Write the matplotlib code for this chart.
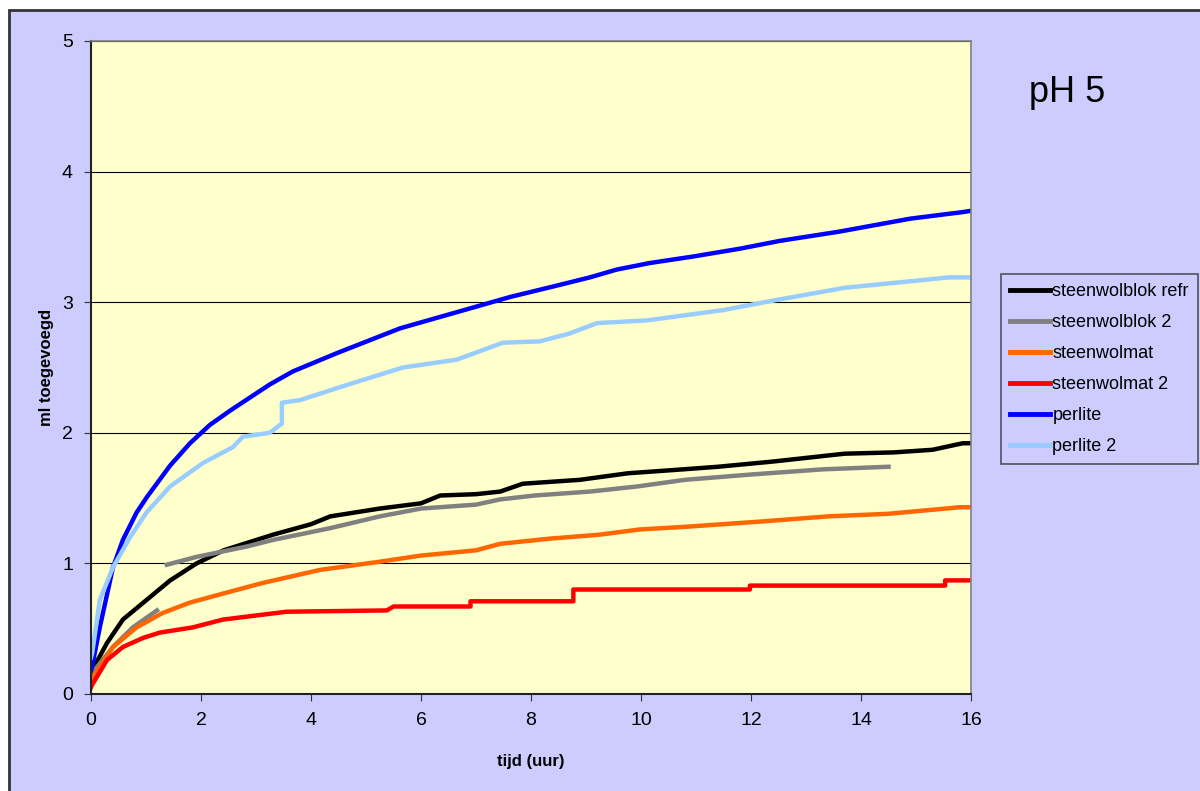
import numpy as np
import matplotlib
matplotlib.use("Agg")
import matplotlib.pyplot as plt
from matplotlib.patches import Rectangle

# values (tijd in uur, ml toegevoegd)
blok_refr_x = [0.0, 0.02, 0.29, 0.58, 1.01, 1.44, 1.92, 2.41, 3.31, 4.0, 4.35, 5.25, 6.0, 6.35, 7.0, 7.44, 7.85,
               8.89, 9.76, 10.76, 11.4, 12.4, 13.7, 14.6, 15.3, 15.85, 16.0]
blok_refr_y = [0.15, 0.18, 0.39, 0.57, 0.72, 0.87, 1.0, 1.10, 1.22, 1.30, 1.36, 1.42, 1.46, 1.52, 1.53, 1.55, 1.61,
               1.64, 1.69, 1.72, 1.74, 1.78, 1.84, 1.85, 1.87, 1.92, 1.92]

blok2_x = [0.0, 0.02, 0.4, 0.76, 1.2, np.nan, 1.38, 1.92, 2.84, 3.31, 4.35, 5.25, 6.0, 7.0, 7.44, 8.07,
           9.07, 9.95, 10.8, 11.98, 13.3, 14.5]
blok2_y = [0.13, 0.16, 0.36, 0.51, 0.64, np.nan, 0.99, 1.05, 1.13, 1.18, 1.27, 1.36, 1.42, 1.45, 1.49, 1.52,
           1.55, 1.59, 1.64, 1.68, 1.72, 1.74]

mat_x = [0.0, 0.02, 0.4, 0.83, 1.3, 1.8, 2.41, 3.12, 4.16, 5.2, 6.0, 7.0, 7.44, 8.35, 9.25, 9.98, 10.8,
         12.16, 13.4, 14.5, 15.8, 16.0]
mat_y = [0.09, 0.12, 0.36, 0.51, 0.62, 0.70, 0.77, 0.85, 0.95, 1.01, 1.06, 1.10, 1.15, 1.19, 1.22, 1.26, 1.28,
         1.32, 1.36, 1.38, 1.43, 1.43]

mat2_x = [0.0, 0.02, 0.29, 0.58, 0.95, 1.25, 1.85, 2.4, 3.56, 5.38, 5.5, 6.9, 6.9, 8.77, 8.77, 11.98, 11.98,
          15.53, 15.53, 16.0]
mat2_y = [0.05, 0.07, 0.26, 0.36, 0.43, 0.47, 0.51, 0.57, 0.63, 0.64, 0.67, 0.67, 0.71, 0.71, 0.80, 0.80, 0.83,
          0.83, 0.87, 0.87]

perlite_x = [0.0, 0.02, 0.16, 0.4, 0.58, 0.83, 1.02, 1.44, 1.8, 2.16, 2.53, 3.25, 3.67, 4.47, 5.62, 7.62,
             8.4, 9.07, 9.56, 10.16, 10.95, 11.8, 12.53, 13.6, 14.9, 15.85, 16.0]
perlite_y = [0.18, 0.21, 0.51, 0.97, 1.18, 1.39, 1.51, 1.75, 1.92, 2.06, 2.17, 2.37, 2.47, 2.61, 2.80, 3.04,
             3.12, 3.19, 3.25, 3.30, 3.35, 3.41, 3.47, 3.54, 3.64, 3.69, 3.70]

perlite2_x = [0.0, 0.02, 0.16, 0.4, 0.71, 1.01, 1.44, 2.04, 2.58, 2.76, 3.25, 3.47, 3.47, 3.8, 4.53, 5.67,
              6.65, 7.49, 8.16, 8.7, 9.2, 10.1, 11.5, 12.5, 13.7, 15.6, 16.0]
perlite2_y = [0.28, 0.31, 0.72, 0.97, 1.20, 1.39, 1.59, 1.77, 1.89, 1.97, 2.0, 2.07, 2.23, 2.25, 2.35, 2.50,
              2.56, 2.69, 2.70, 2.76, 2.84, 2.86, 2.94, 3.02, 3.11, 3.19, 3.19]

series = [
    ("steenwolblok refr", blok_refr_x, blok_refr_y, "#000000"),
    ("steenwolblok 2", blok2_x, blok2_y, "#808080"),
    ("steenwolmat", mat_x, mat_y, "#FF6600"),
    ("steenwolmat 2", mat2_x, mat2_y, "#FF0000"),
    ("perlite", perlite_x, perlite_y, "#0000FF"),
    ("perlite 2", perlite2_x, perlite2_y, "#99CCFF"),
]

plt.rcParams['font.family'] = ['Liberation Sans', 'DejaVu Sans']

fig = plt.figure(figsize=(12, 7.91), dpi=100, facecolor="white")
# chart area with dark border, behind everything
bg = Rectangle((9 / 1200, -0.01), 1.0, 1 - 10 / 791 + 0.01, transform=fig.transFigure,
               facecolor="#CCCCFF", edgecolor="#333333", lw=2, zorder=-10)
fig.patches.append(bg)

ax = fig.add_axes([91 / 1200, 1 - 694 / 791, 880 / 1200, 653 / 791])
ax.set_facecolor("#FFFFCC")

for name, xs, ys, col in series:
    ax.plot(xs, ys, color=col, lw=3.2, label=name, solid_joinstyle="round")

ax.set_xlim(0, 16)
ax.set_ylim(0, 5)
ax.set_xticks(range(0, 17, 2))
ax.set_yticks(range(0, 6))
ax.grid(axis="y", color="black", lw=0.8)
ax.set_axisbelow(True)
ax.tick_params(direction="out", length=5, labelsize=14, color="#333333", pad=8)
for side in ["top", "right"]:
    ax.spines[side].set_color("#808080")
    ax.spines[side].set_linewidth(1.2)
for side in ["left", "bottom"]:
    ax.spines[side].set_color("#222222")
    ax.spines[side].set_linewidth(1.5)

ax.set_xlabel("tijd (uur)", fontsize=12, fontweight="bold", labelpad=18)
ax.set_ylabel("ml toegevoegd", fontsize=12, fontweight="bold", labelpad=6)

fig.text(1067 / 1200, 1 - 92 / 791, "pH 5", fontsize=26, ha="center", va="center")

leg = fig.legend(loc="upper left", bbox_to_anchor=(1001 / 1200, 1 - 274 / 791), fontsize=13,
                 frameon=True, fancybox=False, borderaxespad=0, handlelength=2.2, handletextpad=0.15,
                 labelspacing=0.78, borderpad=0.5)
leg.get_frame().set_facecolor("#CCCCFF")
leg.get_frame().set_edgecolor("#333333")
leg.get_frame().set_linewidth(1.2)
for line in leg.get_lines():
    line.set_linewidth(3.5)

fig.savefig("out.png", dpi=100, facecolor=fig.get_facecolor())
